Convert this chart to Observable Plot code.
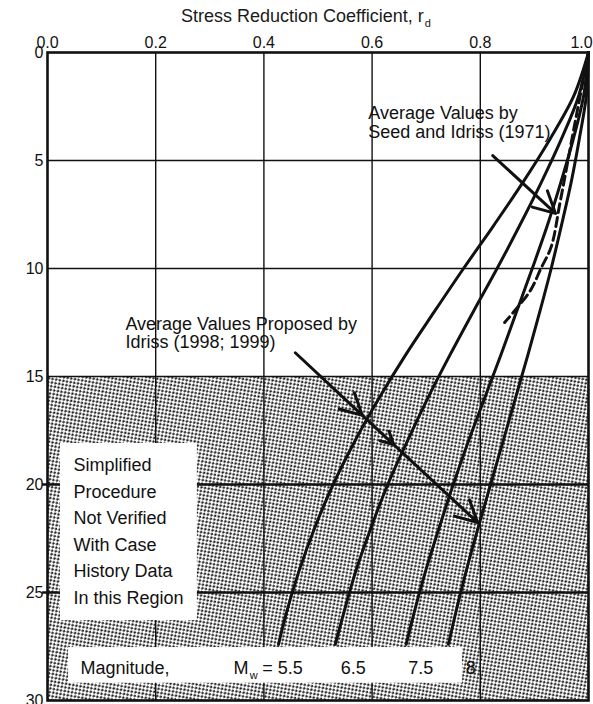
<!DOCTYPE html>
<html>
<head>
<meta charset="utf-8">
<script src="https://cdn.jsdelivr.net/npm/d3@7"></script>
<script src="https://cdn.jsdelivr.net/npm/@observablehq/plot@0.6"></script>
<style>
  html, body { margin: 0; padding: 0; background: #fff; }
  #wrap { position: relative; width: 593px; height: 704px; overflow: hidden; font-family: "Liberation Sans", Arial, sans-serif; color: #1a1a1a; }
  #title { position: absolute; left: 181px; top: 6px; font-size: 18px; line-height: 20px; white-space: nowrap; }
  #title sub { font-size: 11px; vertical-align: -5px; margin-left: 1px; }
  #chart { position: absolute; left: 0; top: 30px; }
</style>
</head>
<body>
<div id="wrap">
  <div id="title">Stress Reduction Coefficient, r<sub>d</sub></div>
  <div id="chart"></div>
</div>
<script>
// ---- data ----
const depths = [0, 2, 4, 6, 8, 10, 12, 14, 16, 18, 20, 22, 24, 26, 27.4];
const rdM55 = [1.0, 0.973, 0.929, 0.879, 0.825, 0.769, 0.715, 0.662, 0.613, 0.568, 0.528, 0.494, 0.465, 0.441, 0.427];
const rdM65 = [1.0, 0.982, 0.950, 0.913, 0.873, 0.831, 0.787, 0.744, 0.703, 0.665, 0.629, 0.598, 0.570, 0.547, 0.532];
const rdM75 = [1.0, 0.991, 0.972, 0.949, 0.924, 0.896, 0.867, 0.838, 0.808, 0.778, 0.750, 0.724, 0.699, 0.677, 0.663];
const rdM80 = [1.0, 0.996, 0.983, 0.968, 0.950, 0.931, 0.910, 0.888, 0.865, 0.842, 0.819, 0.796, 0.774, 0.754, 0.741];
const magnitudes = ["5.5", "6.5", "7.5", "8"];

const seedDepths = [0, 3, 5, 7, 9, 10, 11, 12, 12.5];
const seedRd = [1.0, 0.977, 0.962, 0.947, 0.931, 0.912, 0.893, 0.862, 0.845];

const xTicks = [0, 0.2, 0.4, 0.6, 0.8, 1.0];
const yTicks = [0, 5, 10, 15, 20, 25, 30];
const unverifiedTop = 15;

const seedLabel = "Average Values by\nSeed and Idriss (1971)";
const idrissLabel = "Average Values Proposed by\nIdriss (1998; 1999)";
const regionLabel = "Simplified\nProcedure\nNot Verified\nWith Case\nHistory Data\nIn this Region";

// ---- build tables ----
const series = [rdM55, rdM65, rdM75, rdM80];
const curves = [];
series.forEach((vals, i) => vals.forEach((v, j) => curves.push({m: magnitudes[i], depth: depths[j], rd: v})));
const seed = seedDepths.map((d, i) => ({depth: d, rd: seedRd[i]}));

const FONT = "Liberation Sans, Arial, sans-serif";
const ink = "#111";

const chart = Plot.plot({
  width: 593,
  height: 674,
  marginLeft: 47,
  marginRight: 5,
  marginTop: 22,
  marginBottom: 4,
  style: {fontFamily: FONT, color: ink, background: "white", overflow: "visible"},
  x: {domain: [0, 1]},
  y: {domain: [0, 30], reverse: true},
  marks: [
    // stippled region
    Plot.rect([{x1: 0, x2: 1, y1: unverifiedTop, y2: 30}], {x1: "x1", x2: "x2", y1: "y1", y2: "y2", fill: "url(#stipple)"}),
    // grid
    Plot.ruleX(xTicks.slice(1, -1), {stroke: ink, strokeWidth: 1.4}),
    Plot.ruleY([5, 10, 15], {stroke: ink, strokeWidth: 1.4}),
    Plot.ruleY([20, 25], {x1: -0.009, x2: 1, stroke: ink, strokeWidth: 2.6, clip: false}),
    // white label boxes
    Plot.rect([{x1: 0.024, x2: 0.277, y1: 18.1, y2: 26.3}], {x1: "x1", x2: "x2", y1: "y1", y2: "y2", fill: "white"}),
    Plot.rect([{x1: 0.039, x2: 0.767, y1: 27.55, y2: 29.2}], {x1: "x1", x2: "x2", y1: "y1", y2: "y2", fill: "white"}),
    // curves
    Plot.line(curves, {x: "rd", y: "depth", z: "m", curve: "catmull-rom", stroke: ink, strokeWidth: 3}),
    Plot.line(seed, {x: "rd", y: "depth", curve: "catmull-rom", stroke: ink, strokeWidth: 3, strokeDasharray: "9,5"}),
    // arrows
    Plot.arrow([{x1: 0.823, y1: 4.77, x2: 0.939, y2: 7.45}], {x1: "x1", y1: "y1", x2: "x2", y2: "y2", stroke: ink, strokeWidth: 3, headLength: 12, headAngle: 55}),
    Plot.arrow([
      {x1: 0.458, y1: 13.9, x2: 0.582, y2: 16.8},
      {x1: 0.582, y1: 16.8, x2: 0.640, y2: 18.15},
      {x1: 0.640, y1: 18.15, x2: 0.795, y2: 21.76}
    ], {x1: "x1", y1: "y1", x2: "x2", y2: "y2", stroke: ink, strokeWidth: 3, headLength: 12, headAngle: 55}),
    // frame
    Plot.frame({stroke: ink, strokeWidth: 2.6}),
    // axes
    Plot.axisX({anchor: "top", ticks: xTicks.slice(0, -1), tickFormat: d3.format(".1f"), tickSize: 0, tickPadding: 5, fontSize: 16, fill: ink}),
    Plot.axisX({anchor: "top", ticks: xTicks.slice(-1), tickFormat: d3.format(".1f"), tickSize: 0, tickPadding: 5, fontSize: 16, fill: ink, dx: -7}),
    Plot.axisY({anchor: "left", ticks: yTicks, tickSize: 0, tickPadding: 4, fontSize: 16, fill: ink}),
    // annotations
    Plot.text([seedLabel], {x: 0.593, y: 3.25, text: d => d, textAnchor: "start", lineAnchor: "middle", lineHeight: 1.05, fontSize: 18, fill: ink}),
    Plot.text([idrissLabel], {x: 0.144, y: 13.0, text: d => d, textAnchor: "start", lineAnchor: "middle", lineHeight: 1.0, fontSize: 18, fill: ink}),
    Plot.text([regionLabel], {x: 0.048, y: 22.06, text: d => d, textAnchor: "start", lineAnchor: "middle", lineHeight: 1.48, fontSize: 18, fill: ink}),
    Plot.text(["Magnitude,"], {x: 0.061, y: 28.5, text: d => d, textAnchor: "start", fontSize: 18, fill: ink}),
    Plot.text(["M"], {x: 0.344, y: 28.5, text: d => d, textAnchor: "start", fontSize: 18, fill: ink}),
    Plot.text(["w"], {x: 0.374, y: 28.5, dy: 7, text: d => d, textAnchor: "start", fontSize: 11, fill: ink}),
    Plot.text([`= ${magnitudes[0]}`], {x: 0.397, y: 28.5, text: d => d, textAnchor: "start", fontSize: 18, fill: ink}),
    Plot.text(magnitudes.slice(1), {x: (d, i) => [0.542, 0.667, 0.773][i], y: 28.5, text: d => d, textAnchor: "start", fontSize: 18, fill: ink})
  ]
});

// stipple pattern definition
const ns = "http://www.w3.org/2000/svg";
const defs = document.createElementNS(ns, "defs");
defs.innerHTML = `<pattern id="stipple" width="5.2" height="5.2" patternUnits="userSpaceOnUse" patternTransform="rotate(-35)">
  <rect width="5.2" height="5.2" fill="white"/>
  <rect x="0.3" y="0.4" width="2.5" height="2" fill="#1a1a1a"/>
  <rect x="2.9" y="3.0" width="2.5" height="2" fill="#1a1a1a"/>
</pattern>`;
chart.insertBefore(defs, chart.firstChild);

document.getElementById("chart").appendChild(chart);
</script>
</body>
</html>
